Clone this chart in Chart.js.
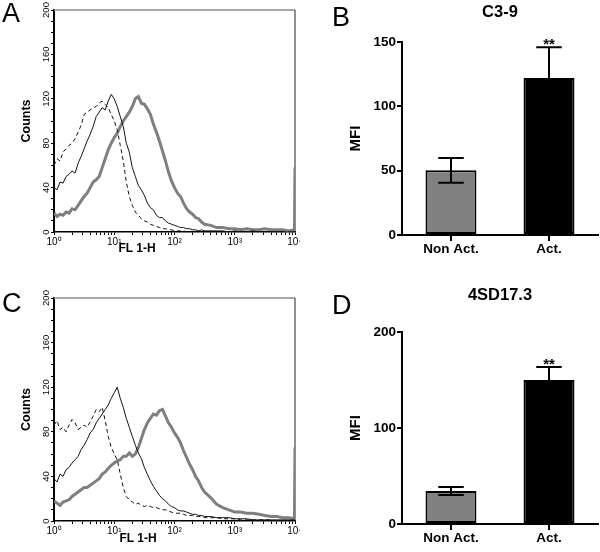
<!DOCTYPE html>
<html>
<head>
<meta charset="utf-8">
<script src="https://cdn.jsdelivr.net/npm/chart.js@4.4.1/dist/chart.umd.min.js"></script>
<style>
  body { margin: 0; background: #fff; }
  #fig { position: relative; width: 600px; height: 552px; font-family: 'Liberation Sans', Arial, Helvetica, sans-serif; color: #000; }
  canvas { position: absolute; }
  .panel { position: absolute; font-size: 27px; line-height: 27px; }
  .xlab { position: absolute; width: 80px; text-align: center; font-size: 12px; font-weight: bold; line-height: 14px; }
</style>
</head>
<body>
<div id="fig">
  <canvas id="histA" width="300" height="270" style="left:0;top:0"></canvas>
  <canvas id="barB" width="300" height="270" style="left:300px;top:0"></canvas>
  <canvas id="histC" width="300" height="272" style="left:0;top:280px"></canvas>
  <canvas id="barD" width="300" height="272" style="left:300px;top:280px"></canvas>
  <div class="panel" style="left:2px;top:0">A</div>
  <div class="panel" style="left:332px;top:4px">B</div>
  <div class="panel" style="left:2px;top:290px">C</div>
  <div class="panel" style="left:332px;top:292px">D</div>
  <div class="xlab" style="left:97px;top:241px">FL 1-H</div>
  <div class="xlab" style="left:98px;top:531px">FL 1-H</div>
</div>
<script>
// FL1-H channel positions (log spaced)
const fl1Channels = [
  1, 1.122, 1.259, 1.413, 1.585, 1.778, 1.995, 2.239, 2.512, 2.818,
  3.162, 3.548, 3.981, 4.467, 5.012, 5.623, 6.310, 7.079, 7.943, 8.913,
  10, 11.22, 12.59, 14.13, 15.85, 17.78, 19.95, 22.39, 25.12, 28.18,
  31.62, 35.48, 39.81, 44.67, 50.12, 56.23, 63.10, 70.79, 79.43, 89.13,
  100, 112.2, 125.9, 141.3, 158.5, 177.8, 199.5, 223.9, 251.2, 281.8,
  316.2, 398.1, 501.2, 631.0, 794.3, 1000, 1259, 1585, 1995, 2512,
  3162, 3981, 5012, 6310, 7943, 9800, 10000
];

// panel A counts
const isotypeA = [
  60, 66, 64, 72, 75, 78, 80, 84, 90, 96,
  106, 108, 110, 112, 113, 116, 118, 115, 112, 106,
  100, 92, 78, 64, 45, 32, 24, 18, 15, 12,
  10, 9, 7, 6, 5, 4, 3, 3, 2, 2,
  1, 1, 1, 1, 0, 1, 0, 0, 0, 0,
  0, 0, 0, 0, 0, 0, 0, 0, 0, 0,
  0, 0, 0, 0, 0, 0, 0
];
const nonActA = [
  40, 38, 45, 44, 50, 52, 55, 53, 62, 68,
  75, 82, 88, 95, 104, 108, 112, 110, 118, 124,
  120, 113, 104, 95, 80, 72, 58, 50, 42, 38,
  33, 26, 22, 20, 15, 13, 13, 10, 8, 7,
  6, 5, 4, 4, 3, 3, 2, 2, 1, 2,
  1, 1, 1, 1, 0, 1, 0, 0, 1, 0,
  0, 0, 0, 0, 0, 0, 0
];
const actA = [
  17, 14, 16, 15, 18, 17, 21, 20, 24, 28,
  32, 35, 40, 45, 47, 50, 58, 66, 74, 80,
  85, 89, 95, 100, 104, 108, 113, 120, 122, 116,
  115, 111, 106, 97, 90, 82, 73, 64, 54, 46,
  40, 35, 32, 26, 21, 18, 16, 13, 12, 9,
  7, 6, 4, 4, 3, 3, 2, 3, 2, 2,
  3, 2, 2, 2, 1, 2, 58
];

// panel C counts
const isotypeC = [
  86, 90, 82, 84, 80, 86, 91, 88, 82, 84,
  86, 84, 89, 94, 100, 98, 102, 90, 76, 66,
  60, 55, 42, 30, 22, 19, 17, 15, 16, 14,
  13, 14, 13, 12, 12, 11, 10, 10, 9, 8,
  7, 7, 7, 6, 5, 5, 5, 4, 4, 4,
  3, 3, 3, 2, 2, 2, 1, 1, 1, 1,
  1, 1, 0, 0, 0, 0, 0
];
const nonActC = [
  38, 35, 42, 40, 46, 48, 52, 55, 58, 64,
  68, 73, 79, 82, 88, 92, 96, 100, 104, 110,
  115, 120, 110, 102, 92, 84, 76, 68, 61, 56,
  48, 42, 36, 31, 27, 23, 20, 18, 15, 13,
  12, 10, 9, 9, 8, 7, 6, 6, 5, 5,
  4, 4, 3, 3, 3, 2, 2, 2, 1, 1,
  1, 1, 1, 1, 1, 1, 0
];
const actC = [
  18, 16, 14, 17, 18, 19, 22, 24, 26, 28,
  30, 30, 32, 34, 36, 38, 42, 44, 47, 50,
  52, 54, 55, 58, 58, 61, 58, 60, 66, 74,
  82, 88, 92, 96, 95, 99, 100, 94, 88, 84,
  79, 75, 70, 63, 57, 51, 46, 40, 36, 30,
  26, 21, 15, 12, 10, 8, 8, 7, 7, 6,
  5, 4, 4, 3, 3, 2, 66
];

const decadeLabels = { 1: '10\u2070', 10: '10\u00b9', 100: '10\u00b2', 1000: '10\u00b3', 10000: '10\u2074' };

// bar panels
const groups = ['Non Act.', 'Act.'];
const mfiC39 = [50.3, 122];
const semC39 = [9.6, 24];
const mfi4SD = [34.4, 150];
const sem4SD = [4.2, 13.5];
const signif = ['', '**'];

const FONT = "'Liberation Sans', Arial, Helvetica, sans-serif";
Chart.defaults.font.family = FONT;
Chart.defaults.color = '#000';

// top and right edge of the histogram box
const frame = {
  id: 'frame',
  beforeDatasetsDraw(chart) {
    const { ctx, chartArea: a } = chart;
    ctx.save();
    ctx.strokeStyle = '#8c8c8c';
    ctx.lineWidth = 1.5;
    ctx.beginPath();
    ctx.moveTo(a.left, a.top);
    ctx.lineTo(a.right, a.top);
    ctx.stroke();
    ctx.strokeStyle = '#222';
    ctx.lineWidth = 1;
    ctx.beginPath();
    ctx.moveTo(a.right, a.top);
    ctx.lineTo(a.right, a.bottom);
    ctx.stroke();
    ctx.restore();
  }
};

function histogram(id, isotype, nonAct, act, padTop, xHeight) {
  const pts = ys => fl1Channels.map((x, i) => ({ x, y: ys[i] }));
  return new Chart(document.getElementById(id), {
    type: 'line',
    data: {
      datasets: [
        { data: pts(isotype), borderColor: '#111', borderWidth: 1, borderDash: [4, 3] },
        { data: pts(nonAct), borderColor: '#111', borderWidth: 1 },
        { data: pts(act), borderColor: '#7f7f7f', borderWidth: 3 }
      ]
    },
    options: {
      responsive: false,
      animation: false,
      layout: { padding: { top: padTop, right: 5, left: 0, bottom: 0 } },
      elements: { point: { radius: 0 }, line: { tension: 0 } },
      plugins: { legend: { display: false }, tooltip: { enabled: false } },
      scales: {
        x: {
          type: 'logarithmic',
          min: 1,
          max: 10000,
          grid: { drawOnChartArea: false, tickLength: 3, tickColor: '#000' },
          border: { color: '#000', width: 1.5 },
          ticks: {
            autoSkip: false, maxRotation: 0, padding: 1, color: '#000',
            font: { size: 10 },
            callback: v => decadeLabels[Math.round(v)] || ''
          },
          afterBuildTicks: s => {
            s.ticks = s.ticks.filter(t => {
              const m = t.value / Math.pow(10, Math.floor(Math.log10(t.value) + 1e-9));
              return Math.abs(m - Math.round(m)) < 1e-6;
            });
          },
          afterFit: s => { s.height = xHeight; s.paddingLeft = 0; s.paddingRight = 0; }
        },
        y: {
          min: 0,
          max: 200,
          grid: { drawOnChartArea: false, tickLength: 3, tickColor: '#000' },
          border: { color: '#000', width: 2 },
          ticks: {
            stepSize: 10, autoSkip: false, minRotation: 90, maxRotation: 90,
            crossAlign: 'center', padding: -3, color: '#000',
            font: { size: 9.5 },
            callback: v => (v % 40 === 0 ? String(v) : '')
          },
          title: {
            display: true, text: 'Counts', color: '#000',
            font: { size: 12.5, weight: 'bold' },
            padding: { top: 19.5, bottom: 0 }
          },
          afterFit: s => { s.width = 54; s.paddingTop = 0; s.paddingBottom = 0; }
        }
      }
    },
    plugins: [frame]
  });
}

function errorBars(sem, marks) {
  return {
    id: 'errorBars',
    afterDatasetsDraw(chart) {
      const { ctx } = chart;
      const y = chart.scales.y;
      const values = chart.data.datasets[0].data;
      ctx.save();
      ctx.strokeStyle = '#000';
      ctx.fillStyle = '#000';
      ctx.lineWidth = 2;
      chart.getDatasetMeta(0).data.forEach((bar, i) => {
        const hi = y.getPixelForValue(values[i] + sem[i]);
        const lo = y.getPixelForValue(values[i] - sem[i]);
        const half = bar.width / 4;
        ctx.beginPath();
        ctx.moveTo(bar.x, lo); ctx.lineTo(bar.x, hi);
        ctx.moveTo(bar.x - half, hi); ctx.lineTo(bar.x + half, hi);
        ctx.moveTo(bar.x - half, lo); ctx.lineTo(bar.x + half, lo);
        ctx.stroke();
        if (marks[i]) {
          ctx.font = 'bold 15px ' + FONT;
          ctx.textAlign = 'center';
          ctx.textBaseline = 'alphabetic';
          ctx.fillText(marks[i], bar.x, hi + 2);
        }
      });
      ctx.restore();
    }
  };
}

function barChart(id, title, values, sem, yMax, yStep, titlePad, xHeight) {
  return new Chart(document.getElementById(id), {
    type: 'bar',
    data: {
      labels: groups,
      datasets: [{
        data: values,
        backgroundColor: ['#808080', '#000000'],
        borderColor: '#000',
        borderWidth: 2,
        borderSkipped: false,
        barPercentage: 0.52,
        categoryPercentage: 1
      }]
    },
    options: {
      responsive: false,
      animation: false,
      layout: { padding: { top: 0, right: 2, left: 0, bottom: 0 } },
      plugins: {
        legend: { display: false },
        tooltip: { enabled: false },
        title: {
          display: true, text: title, fullSize: false, color: '#000',
          font: { size: 16.5, weight: 'bold' },
          padding: { top: titlePad[0], bottom: titlePad[1] }
        }
      },
      scales: {
        x: {
          grid: { drawOnChartArea: false, offset: false, tickLength: 6, tickWidth: 2, lineWidth: 2, tickColor: '#000' },
          border: { color: '#000', width: 2 },
          ticks: { color: '#000', padding: 0, font: { size: 13.5, weight: 'bold' } },
          afterFit: s => { s.height = xHeight; s.paddingLeft = 0; s.paddingRight = 0; }
        },
        y: {
          min: 0,
          max: yMax,
          grid: { drawOnChartArea: false, tickLength: 5, tickWidth: 2, lineWidth: 2, tickColor: '#000' },
          border: { color: '#000', width: 2 },
          ticks: { stepSize: yStep, color: '#000', padding: 1, font: { size: 13.5, weight: 'bold' } },
          title: {
            display: true, text: 'MFI', color: '#000',
            font: { size: 15, weight: 'bold' },
            padding: { top: 47, bottom: 0 }
          },
          afterFit: s => { s.width = 102; s.paddingTop = 0; s.paddingBottom = 0; }
        }
      }
    },
    plugins: [errorBars(sem, signif)]
  });
}

histogram('histA', isotypeA, nonActA, actA, 10, 38);
histogram('histC', isotypeC, nonActC, actC, 18, 31);
barChart('barB', 'C3-9', mfiC39, semC39, 150, 50, [2.6, 19.6], 35);
barChart('barD', '4SD17.3', mfi4SD, sem4SD, 200, 100, [5.1, 27.1], 28);
</script>
</body>
</html>
